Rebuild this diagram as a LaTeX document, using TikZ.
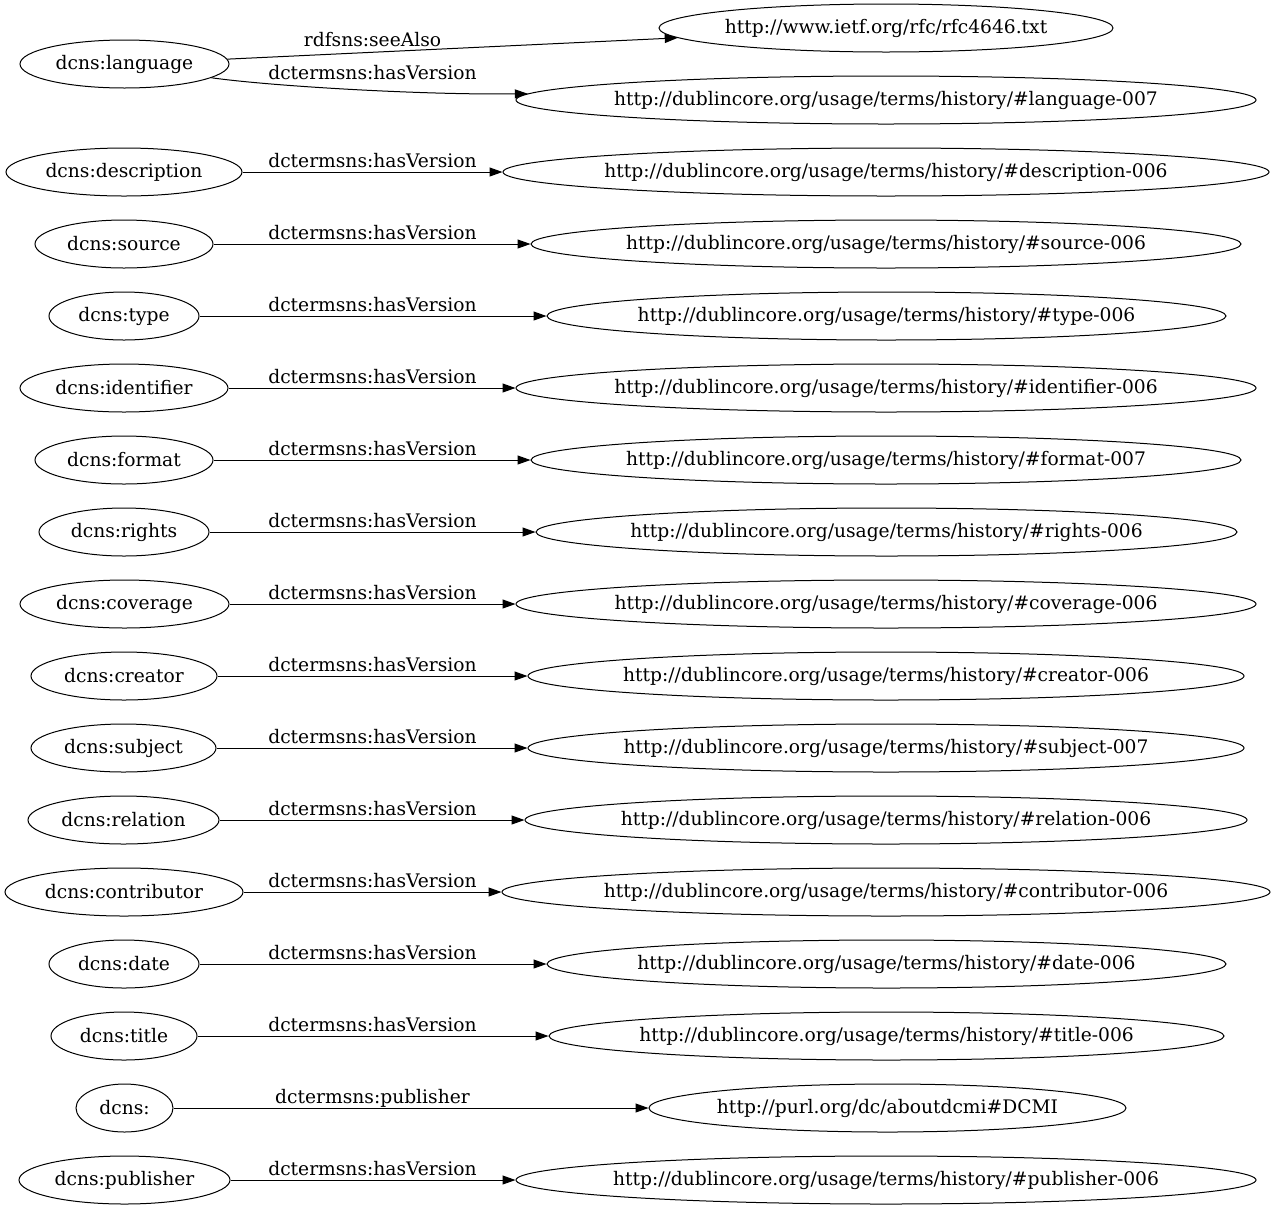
\documentclass[tikz,border=0pt]{standalone}
\usepackage{fontspec}
\setmainfont{DejaVu Serif}
\usetikzlibrary{arrows.meta,shapes.geometric}
\newcommand{\gvfont}{\fontsize{18.67}{22}\selectfont}
\newcommand{\gvtext}[1]{\makebox[0pt]{#1}}
\tikzset{
  ent/.style={draw, ellipse, inner sep=0pt, line width=1pt, minimum height=48pt, font=\gvfont},
  lbl/.style={font=\gvfont, inner sep=0pt, anchor=base},
  rel/.style={-{Triangle[length=13pt,width=9pt]}, line width=1pt},
}
\begin{document}
\begin{tikzpicture}[x=1pt,y=-1pt]
\useasboundingbox (0,0) rectangle (1276,1211);
% left nodes
\node[ent, minimum width=209pt] (language) at (124.5,64) {\gvtext{dcns:language}};
\node[ent, minimum width=236pt] (description) at (124,172) {\gvtext{dcns:description}};
\node[ent, minimum width=178pt] (source) at (124,244) {\gvtext{dcns:source}};
\node[ent, minimum width=150pt] (type) at (124,316) {\gvtext{dcns:type}};
\node[ent, minimum width=208pt] (identifier) at (124,388) {\gvtext{dcns:identifier}};
\node[ent, minimum width=178pt] (format) at (124,460) {\gvtext{dcns:format}};
\node[ent, minimum width=170pt] (rights) at (124,532) {\gvtext{dcns:rights}};
\node[ent, minimum width=209pt] (coverage) at (124.5,604) {\gvtext{dcns:coverage}};
\node[ent, minimum width=186pt] (creator) at (124,676) {\gvtext{dcns:creator}};
\node[ent, minimum width=185pt] (subject) at (123.5,748) {\gvtext{dcns:subject}};
\node[ent, minimum width=191pt] (relation) at (123.5,820) {\gvtext{dcns:relation}};
\node[ent, minimum width=238pt] (contributor) at (124,892) {\gvtext{dcns:contributor}};
\node[ent, minimum width=150pt] (date) at (124,964) {\gvtext{dcns:date}};
\node[ent, minimum width=146pt] (title) at (124,1036) {\gvtext{dcns:title}};
\node[ent, minimum width=97pt] (dcns) at (124.5,1108) {\gvtext{dcns:}};
\node[ent, minimum width=211pt] (publisher) at (124.5,1180) {\gvtext{dcns:publisher}};
% right nodes
\node[ent, minimum width=454pt] (rfc) at (886,28) {\gvtext{http://www.ietf.org/rfc/rfc4646.txt}};
\node[ent, minimum width=740pt] (hlanguage) at (886,100) {\gvtext{http://dublincore.org/usage/terms/history/\#language-007}};
\node[ent, minimum width=766pt] (hdescription) at (886,172) {\gvtext{http://dublincore.org/usage/terms/history/\#description-006}};
\node[ent, minimum width=710pt] (hsource) at (886,244) {\gvtext{http://dublincore.org/usage/terms/history/\#source-006}};
\node[ent, minimum width=679pt] (htype) at (886.5,316) {\gvtext{http://dublincore.org/usage/terms/history/\#type-006}};
\node[ent, minimum width=740pt] (hidentifier) at (886,388) {\gvtext{http://dublincore.org/usage/terms/history/\#identifier-006}};
\node[ent, minimum width=710pt] (hformat) at (886,460) {\gvtext{http://dublincore.org/usage/terms/history/\#format-007}};
\node[ent, minimum width=701pt] (hrights) at (886.5,532) {\gvtext{http://dublincore.org/usage/terms/history/\#rights-006}};
\node[ent, minimum width=740pt] (hcoverage) at (886,604) {\gvtext{http://dublincore.org/usage/terms/history/\#coverage-006}};
\node[ent, minimum width=716pt] (hcreator) at (886,676) {\gvtext{http://dublincore.org/usage/terms/history/\#creator-006}};
\node[ent, minimum width=716pt] (hsubject) at (886,748) {\gvtext{http://dublincore.org/usage/terms/history/\#subject-007}};
\node[ent, minimum width=722pt] (hrelation) at (886,820) {\gvtext{http://dublincore.org/usage/terms/history/\#relation-006}};
\node[ent, minimum width=768pt] (hcontributor) at (886,892) {\gvtext{http://dublincore.org/usage/terms/history/\#contributor-006}};
\node[ent, minimum width=679pt] (hdate) at (886.5,964) {\gvtext{http://dublincore.org/usage/terms/history/\#date-006}};
\node[ent, minimum width=675pt] (htitle) at (886.5,1036) {\gvtext{http://dublincore.org/usage/terms/history/\#title-006}};
\node[ent, minimum width=477pt] (dcmi) at (887.5,1108) {\gvtext{http://purl.org/dc/aboutdcmi\#DCMI}};
\node[ent, minimum width=740pt] (hpublisher) at (886,1180) {\gvtext{http://dublincore.org/usage/terms/history/\#publisher-006}};
% edges
\draw[rel] (language) -- (rfc);
\draw[rel] (language.-9) .. controls (270,86) and (420,95) .. (hlanguage.179.5);
\draw[rel] (description) -- (hdescription);
\draw[rel] (source) -- (hsource);
\draw[rel] (type) -- (htype);
\draw[rel] (identifier) -- (hidentifier);
\draw[rel] (format) -- (hformat);
\draw[rel] (rights) -- (hrights);
\draw[rel] (coverage) -- (hcoverage);
\draw[rel] (creator) -- (hcreator);
\draw[rel] (subject) -- (hsubject);
\draw[rel] (relation) -- (hrelation);
\draw[rel] (contributor) -- (hcontributor);
\draw[rel] (date) -- (hdate);
\draw[rel] (title) -- (htitle);
\draw[rel] (dcns) -- (dcmi);
\draw[rel] (publisher) -- (hpublisher);
% edge labels
\node[lbl] (l1) at (372.5,46) {rdfsns:seeAlso};
\node[lbl] (l2) at (372.5,79) {dctermsns:hasVersion};
\node[lbl] (l3) at (372.5,167) {dctermsns:hasVersion};
\node[lbl] (l4) at (372.5,239) {dctermsns:hasVersion};
\node[lbl] (l5) at (372.5,311) {dctermsns:hasVersion};
\node[lbl] (l6) at (372.5,383) {dctermsns:hasVersion};
\node[lbl] (l7) at (372.5,455) {dctermsns:hasVersion};
\node[lbl] (l8) at (372.5,527) {dctermsns:hasVersion};
\node[lbl] (l9) at (372.5,599) {dctermsns:hasVersion};
\node[lbl] (l10) at (372.5,671) {dctermsns:hasVersion};
\node[lbl] (l11) at (372.5,743) {dctermsns:hasVersion};
\node[lbl] (l12) at (372.5,815) {dctermsns:hasVersion};
\node[lbl] (l13) at (372.5,887) {dctermsns:hasVersion};
\node[lbl] (l14) at (372.5,959) {dctermsns:hasVersion};
\node[lbl] (l15) at (372.5,1031) {dctermsns:hasVersion};
\node[lbl] (l16) at (372.5,1103) {dctermsns:publisher};
\node[lbl] (l17) at (372.5,1175) {dctermsns:hasVersion};
\end{tikzpicture}
\end{document}
